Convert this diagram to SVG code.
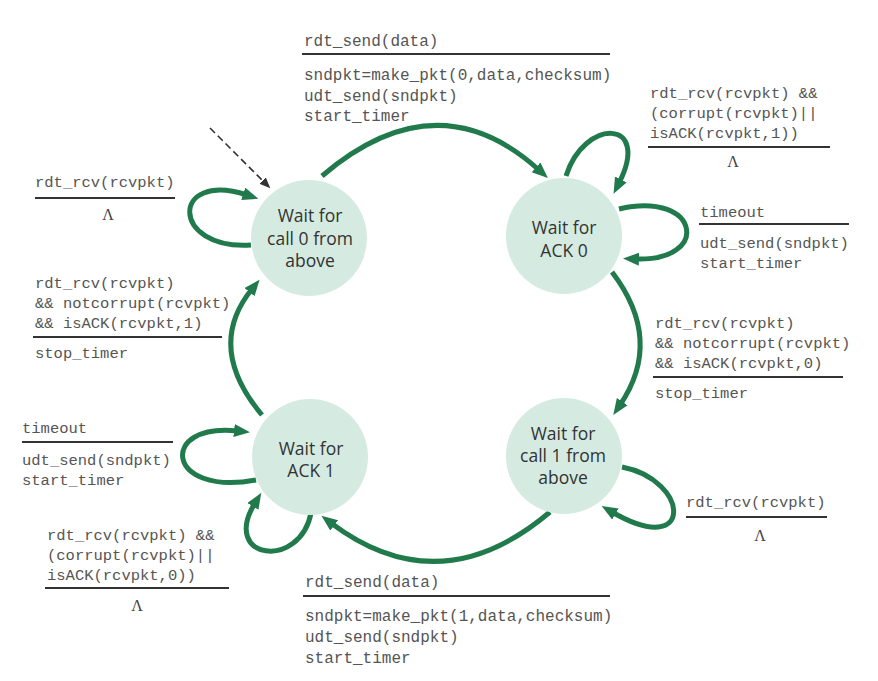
<svg xmlns="http://www.w3.org/2000/svg" width="878" height="681" viewBox="0 0 878 681">
<style>
.bg{fill:#ffffff}
.node circle{fill:#d5ebe2}
.node text{font-family:"Open Sans","Liberation Sans",sans-serif;font-size:17.5px;fill:#333;text-anchor:middle}
.edge{fill:none;stroke:#217a4c;stroke-width:5}
.init{fill:none;stroke:#333;stroke-width:1.6;stroke-dasharray:7 4}
.lbl{font-family:"Liberation Mono","Courier New",monospace;font-size:15.5px;fill:#555}
.lbl.big{font-size:16px}
.lam{font-family:"Liberation Serif","Times New Roman",serif;font-size:16px;fill:#444;text-anchor:middle}
.bar{stroke:#333;stroke-width:2}
</style>
<defs>
<marker id="ah" markerUnits="userSpaceOnUse" markerWidth="18" markerHeight="15" refX="4" refY="6.5" orient="auto">
<path d="M0,0 L16,6.5 L0,13 z" fill="#217a4c"/>
</marker>
<marker id="ahd" markerUnits="userSpaceOnUse" markerWidth="12" markerHeight="10" refX="2" refY="4.5" orient="auto">
<path d="M0,0 L11,4.5 L0,9 z" fill="#333"/>
</marker>
</defs>
<rect class="bg" x="0" y="0" width="878" height="681"/>

<g id="connectors">
<path class="init" d="M210,128 L264,182" marker-end="url(#ahd)"/>
<path class="edge" d="M322,176 Q437,78 539,170" marker-end="url(#ah)"/>
<path class="edge" d="M566,176 C584,118 652,118 619,183" marker-end="url(#ah)"/>
<path class="edge" d="M619,209 C700,190 712,262 635,259" marker-end="url(#ah)"/>
<path class="edge" d="M612,272 Q664,340 620,405" marker-end="url(#ah)"/>
<path class="edge" d="M622,467 C690,480 695,560 612,512" marker-end="url(#ah)"/>
<path class="edge" d="M550,512 Q440,605 331,523" marker-end="url(#ah)"/>
<path class="edge" d="M311,513 C300,570 220,560 255,503" marker-end="url(#ah)"/>
<path class="edge" d="M256,480 C165,497 158,422 238,431" marker-end="url(#ah)"/>
<path class="edge" d="M262,415 Q205,347 252,289" marker-end="url(#ah)"/>
<path class="edge" d="M251,245 C170,250 170,170 247,195" marker-end="url(#ah)"/>
</g>

<g id="node-call0" class="node">
<circle cx="309" cy="238" r="58"/>
<text x="310" y="222">Wait for</text>
<text x="310" y="244.5">call 0 from</text>
<text x="310" y="267">above</text>
</g>
<g id="node-ack0" class="node">
<circle cx="564" cy="236" r="58"/>
<text x="564" y="234">Wait for</text>
<text x="564" y="257">ACK 0</text>
</g>
<g id="node-call1" class="node">
<circle cx="564" cy="456" r="58"/>
<text x="563" y="440">Wait for</text>
<text x="563" y="462">call 1 from</text>
<text x="563" y="484">above</text>
</g>
<g id="node-ack1" class="node">
<circle cx="310" cy="457" r="58"/>
<text x="311" y="455">Wait for</text>
<text x="311" y="477">ACK 1</text>
</g>

<g id="labels">
<text class="lbl big" x="304" y="46">rdt_send(data)</text>
<line class="bar" x1="302" y1="54" x2="610" y2="54"/>
<text class="lbl big" x="304" y="80">sndpkt=make_pkt(0,data,checksum)</text>
<text class="lbl big" x="304" y="100.5">udt_send(sndpkt)</text>
<text class="lbl big" x="304" y="121">start_timer</text>

<text class="lbl" x="650" y="98">rdt_rcv(rcvpkt) &amp;&amp;</text>
<text class="lbl" x="650" y="118">(corrupt(rcvpkt)||</text>
<text class="lbl" x="650" y="138">isACK(rcvpkt,1))</text>
<line class="bar" x1="648" y1="147" x2="830" y2="147"/>
<text class="lam" x="733" y="167">Λ</text>

<text class="lbl" x="700" y="217">timeout</text>
<line class="bar" x1="699" y1="224" x2="849" y2="224"/>
<text class="lbl" x="700" y="248">udt_send(sndpkt)</text>
<text class="lbl" x="700" y="268">start_timer</text>

<text class="lbl" x="35" y="187">rdt_rcv(rcvpkt)</text>
<line class="bar" x1="35" y1="198" x2="175" y2="198"/>
<text class="lam" x="108" y="220">Λ</text>

<text class="lbl" x="35" y="288">rdt_rcv(rcvpkt)</text>
<text class="lbl" x="35" y="308">&amp;&amp; notcorrupt(rcvpkt)</text>
<text class="lbl" x="35" y="328">&amp;&amp; isACK(rcvpkt,1)</text>
<line class="bar" x1="33" y1="337" x2="222" y2="337"/>
<text class="lbl" x="35" y="358">stop_timer</text>

<text class="lbl" x="655" y="327.5">rdt_rcv(rcvpkt)</text>
<text class="lbl" x="655" y="347.5">&amp;&amp; notcorrupt(rcvpkt)</text>
<text class="lbl" x="655" y="367.5">&amp;&amp; isACK(rcvpkt,0)</text>
<line class="bar" x1="653" y1="377" x2="843" y2="377"/>
<text class="lbl" x="655" y="398">stop_timer</text>

<text class="lbl" x="686" y="507">rdt_rcv(rcvpkt)</text>
<line class="bar" x1="686" y1="517" x2="827" y2="517"/>
<text class="lam" x="760" y="541">Λ</text>

<text class="lbl" x="22" y="433">timeout</text>
<line class="bar" x1="22" y1="442" x2="173" y2="442"/>
<text class="lbl" x="22" y="465">udt_send(sndpkt)</text>
<text class="lbl" x="22" y="485">start_timer</text>

<text class="lbl" x="47" y="540">rdt_rcv(rcvpkt) &amp;&amp;</text>
<text class="lbl" x="47" y="560">(corrupt(rcvpkt)||</text>
<text class="lbl" x="47" y="580">isACK(rcvpkt,0))</text>
<line class="bar" x1="45" y1="588" x2="229" y2="588"/>
<text class="lam" x="137" y="611">Λ</text>

<text class="lbl big" x="305" y="587">rdt_send(data)</text>
<line class="bar" x1="303" y1="596" x2="610" y2="596"/>
<text class="lbl big" x="305" y="621">sndpkt=make_pkt(1,data,checksum)</text>
<text class="lbl big" x="305" y="642">udt_send(sndpkt)</text>
<text class="lbl big" x="305" y="663">start_timer</text>
</g>
</svg>
